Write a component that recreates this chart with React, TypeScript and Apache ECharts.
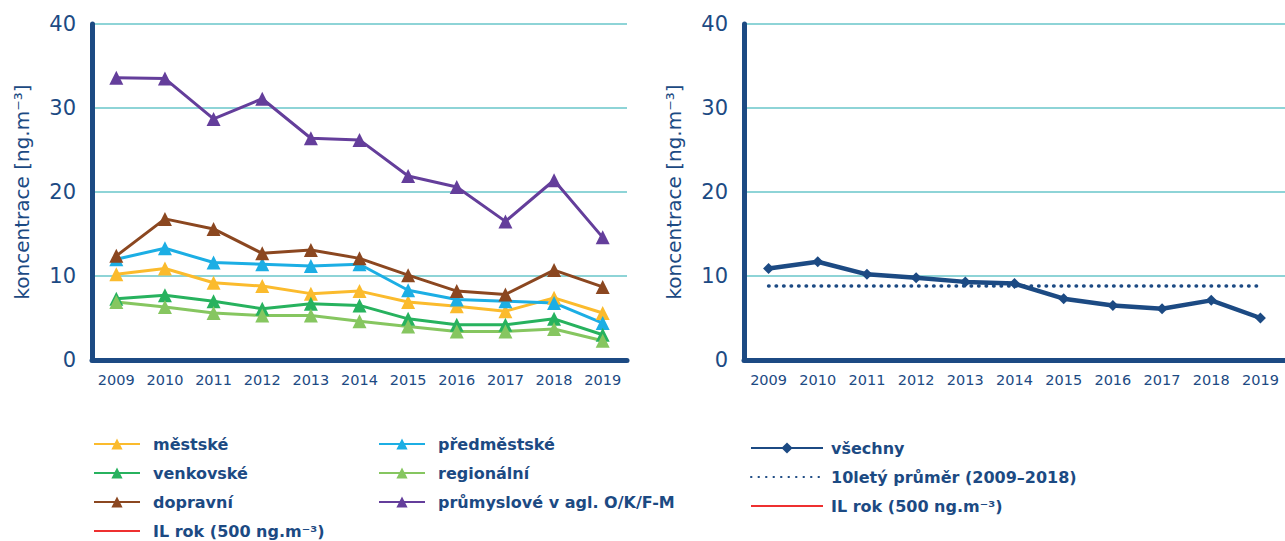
import React, { useEffect, useRef } from "react";
import * as echarts from "echarts";

const years = ["2009", "2010", "2011", "2012", "2013", "2014", "2015", "2016", "2017", "2018", "2019"];

// concentrations by station type [ng.m-3]
const mestske = [10.2, 10.9, 9.2, 8.8, 7.9, 8.2, 6.9, 6.4, 5.8, 7.4, 5.6];
const predmestske = [12.0, 13.3, 11.6, 11.4, 11.2, 11.4, 8.3, 7.2, 7.0, 6.8, 4.4];
const venkovske = [7.3, 7.7, 7.0, 6.1, 6.7, 6.5, 4.9, 4.2, 4.2, 4.9, 3.0];
const regionalni = [6.9, 6.3, 5.6, 5.3, 5.3, 4.6, 4.0, 3.4, 3.4, 3.7, 2.3];
const dopravni = [12.4, 16.8, 15.6, 12.7, 13.1, 12.1, 10.1, 8.2, 7.8, 10.7, 8.7];
const prumyslove = [33.6, 33.5, 28.7, 31.1, 26.4, 26.2, 21.9, 20.6, 16.5, 21.4, 14.6];

// all stations together
const vsechny = [10.9, 11.7, 10.2, 9.8, 9.3, 9.1, 7.3, 6.5, 6.1, 7.1, 5.0];
const prumer10 = [8.8, 8.8, 8.8, 8.8, 8.8, 8.8, 8.8, 8.8, 8.8, 8.8, 8.8];
const limitRok = [500, 500, 500, 500, 500, 500, 500, 500, 500, 500, 500];

const yTicks = [0, 10, 20, 30, 40];

const NAVY = "#1c4a83";
const GRID = "#8ed4d7";
const RED = "#ee3030";
const LIMIT_NAME = "IL rok (500 ng.m⁻³)";
const FONT = "DejaVu Sans";

const yAxisBase = (gridIndex: number) => ({
  type: "value" as const,
  gridIndex,
  min: yTicks[0],
  max: yTicks[yTicks.length - 1],
  interval: 10,
  name: "koncentrace [ng.m⁻³]",
  nameLocation: "middle" as const,
  nameRotate: 90,
  nameGap: 60,
  nameTextStyle: { color: NAVY, fontSize: 20, fontFamily: FONT },
  axisLine: { show: true, lineStyle: { color: NAVY, width: 5 } },
  axisTick: { show: false },
  axisLabel: { color: NAVY, fontSize: 21, fontFamily: FONT, margin: 16 },
  splitLine: { show: true, lineStyle: { color: GRID, width: 2 } },
});

const xAxisBase = (gridIndex: number) => ({
  type: "category" as const,
  gridIndex,
  data: years,
  boundaryGap: true,
  axisLine: { show: true, lineStyle: { color: NAVY, width: 5 } },
  axisTick: { show: false },
  axisLabel: { color: NAVY, fontSize: 14.5, fontFamily: FONT, margin: 12, interval: 0 },
  splitLine: { show: false },
});

const triSeries = (name: string, data: number[], color: string) => ({
  name,
  type: "line" as const,
  xAxisIndex: 0,
  yAxisIndex: 0,
  data,
  symbol: "triangle",
  symbolSize: 14,
  lineStyle: { color, width: 3 },
  itemStyle: { color },
});

const legendText = {
  color: NAVY,
  fontSize: 16,
  fontWeight: "bold" as const,
  fontFamily: FONT,
  padding: [0, 0, 0, 8],
};

// plain line entry without a marker
const limitEntry = { name: LIMIT_NAME, itemStyle: { opacity: 0 } };

const legendCommon = {
  orient: "vertical" as const,
  itemGap: 13,
  itemWidth: 46,
  itemHeight: 14,
  textStyle: legendText,
};

export default function App() {
  const ref = useRef<HTMLDivElement>(null);

  useEffect(() => {
    if (!ref.current) return;
    const chart = echarts.init(ref.current, undefined, { renderer: "svg" });
    chart.setOption({
      animation: false,
      backgroundColor: "#ffffff",
      grid: [
        { left: 92, right: 658, top: 24, bottom: 181 },
        { left: 744, right: 0, top: 24, bottom: 181 },
      ],
      xAxis: [xAxisBase(0), xAxisBase(1)],
      yAxis: [yAxisBase(0), yAxisBase(1)],
      legend: [
        {
          ...legendCommon,
          left: 88,
          top: 431,
          height: 100,
          data: ["městské", "venkovské", "dopravní"],
        },
        {
          ...legendCommon,
          left: 88,
          top: 518,
          data: [limitEntry],
        },
        {
          ...legendCommon,
          left: 373,
          top: 431,
          height: 100,
          data: ["předměstské", "regionální", "průmyslové v agl. O/K/F-M"],
        },
        {
          ...legendCommon,
          left: 745,
          top: 435,
          itemGap: 13,
          itemWidth: 72,
          height: 100,
          textStyle: { ...legendText, padding: [0, 0, 0, 3] },
          data: ["všechny", "10letý průměr (2009–2018)", limitEntry],
        },
      ],
      series: [
        triSeries("městské", mestske, "#fbbb2d"),
        triSeries("předměstské", predmestske, "#1caee4"),
        triSeries("venkovské", venkovske, "#27b25e"),
        triSeries("regionální", regionalni, "#86c660"),
        triSeries("dopravní", dopravni, "#8b4720"),
        triSeries("průmyslové v agl. O/K/F-M", prumyslove, "#643e9b"),
        {
          name: LIMIT_NAME,
          type: "line",
          xAxisIndex: 0,
          yAxisIndex: 0,
          data: limitRok,
          symbol: "none",
          clip: true,
          lineStyle: { color: RED, width: 3 },
          itemStyle: { color: RED },
        },
        {
          name: "všechny",
          type: "line",
          xAxisIndex: 1,
          yAxisIndex: 1,
          data: vsechny,
          symbol: "diamond",
          symbolSize: 11,
          lineStyle: { color: NAVY, width: 4.5 },
          itemStyle: { color: NAVY },
        },
        {
          name: "10letý průměr (2009–2018)",
          type: "line",
          xAxisIndex: 1,
          yAxisIndex: 1,
          data: prumer10,
          symbol: "none",
          lineStyle: { color: NAVY, width: 3.5, type: [0.5, 7], cap: "round" },
          itemStyle: { color: NAVY, opacity: 0 },
        },
        {
          name: LIMIT_NAME,
          type: "line",
          xAxisIndex: 1,
          yAxisIndex: 1,
          data: limitRok,
          symbol: "none",
          clip: true,
          lineStyle: { color: RED, width: 3 },
          itemStyle: { color: RED },
        },
      ],
    });
    return () => chart.dispose();
  }, []);

  return (
    <div
      ref={ref}
      style={{ position: "absolute", left: 0, top: 0, width: 1285, height: 541 }}
    />
  );
}
